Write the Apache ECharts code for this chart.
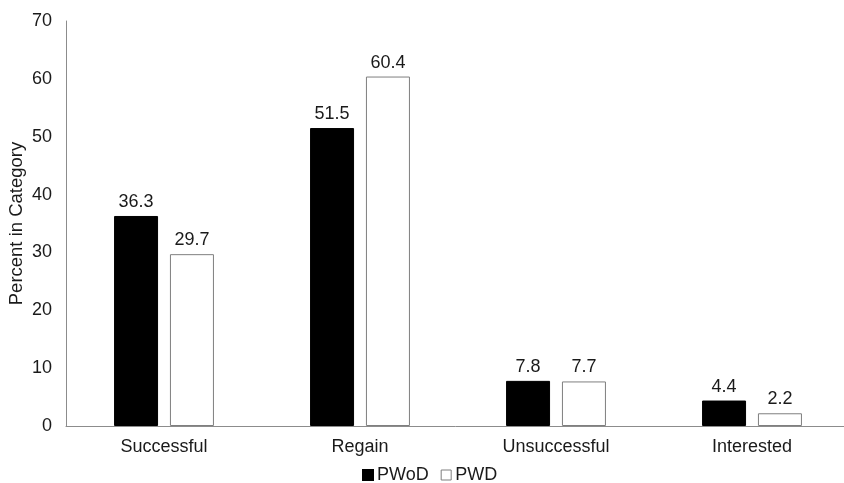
<!DOCTYPE html>
<html><head><meta charset="utf-8">
<script src="https://cdn.jsdelivr.net/npm/echarts@6/dist/echarts.min.js"></script>
<style>html,body{margin:0;padding:0;background:#fff}#c{width:844px;height:483px}</style>
</head><body><div id="c"></div>
<script>
const categories = ['Successful','Regain','Unsuccessful','Interested'];
const pwod = [36.3, 51.5, 7.8, 4.4];
const pwd = [29.7, 60.4, 7.7, 2.2];
const yTicks = [0,10,20,30,40,50,60,70];
const font = '"Liberation Sans", Arial, sans-serif';
const chart = echarts.init(document.getElementById('c'));
const lbl = {show:true, position:'top', distance:5, color:'#1a1a1a', fontSize:18, fontFamily:font, formatter:p=>p.value.toFixed(1)};
chart.setOption({
  animation:false,
  grid:{left:66, width:784, top:21, bottom:57, containLabel:false, outerBoundsMode:'none'},
  legend:{top:466, left:362, padding:0, itemWidth:10, itemHeight:10, itemGap:12,
    textStyle:{fontSize:18, fontFamily:font, color:'#1a1a1a', padding:[0,0,0,-1]},
    data:[{name:'PWoD', icon:'rect'},{name:'PWD', icon:'rect', itemStyle:{borderWidth:1, borderColor:'#7f7f7f'}}]},
  xAxis:{type:'category', data:categories,
    axisLine:{lineStyle:{color:'#8c8c8c', width:1}}, axisTick:{show:false},
    axisLabel:{fontSize:18, fontFamily:font, color:'#1a1a1a', margin:12}},
  yAxis:{type:'value', min:0, max:70, interval:10,
    name:'Percent in Category', nameLocation:'middle', nameGap:40, nameRotate:90, nameMoveOverlap:false,
    nameTextStyle:{fontSize:18.5, fontFamily:font, color:'#1a1a1a'},
    axisLine:{show:true, lineStyle:{color:'#8c8c8c', width:1}}, axisTick:{show:false},
    splitLine:{show:false},
    axisLabel:{fontSize:18, fontFamily:font, color:'#1a1a1a', margin:14,
      formatter:v=>yTicks.includes(v)?String(v):''}},
  series:[
    {name:'PWoD', type:'bar', data:pwod, barWidth:44, barGap:'27%',
      itemStyle:{color:'#000', borderColor:'#000', borderWidth:1}, label:lbl},
    {name:'PWD', type:'bar', data:pwd, barWidth:44,
      itemStyle:{color:'#fff', borderColor:'#7f7f7f', borderWidth:1}, label:lbl}
  ]
});
</script></body></html>
